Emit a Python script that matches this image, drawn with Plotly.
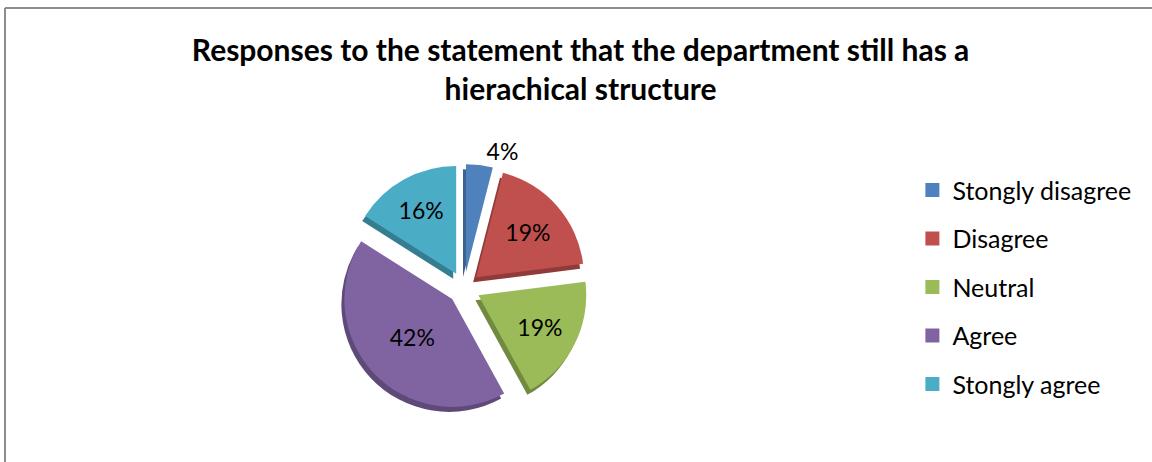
import plotly.graph_objects as go

# Survey responses
categories = ["Stongly disagree", "Disagree", "Neutral", "Agree", "Stongly agree"]
shares = [4, 19, 19, 42, 16]
colors = ["#4F81BD", "#C0504D", "#9BBB59", "#8064A2", "#4BACC6"]
edge_colors = ["#3A6390", "#8F3B39", "#718A40", "#5E4A78", "#357E92"]

title_text = "Responses to the statement that the department still has a<br>hierachical structure"

W, H = 1152, 462
FONT = "Lato, 'Open Sans', sans-serif"

# pie geometry (pixels)
cx, cy, half = 464, 288, 124
pull = [0.15] * len(shares)


def dom(dx=0, dy=0):
    x0 = (cx + dx - half) / W
    x1 = (cx + dx + half) / W
    yb = H - (cy + dy)
    return dict(x=[x0, x1], y=[(yb - half) / H, (yb + half) / H])


fig = go.Figure()

# darker copy underneath gives the slices a bevelled edge
fig.add_trace(go.Pie(
    values=shares, labels=categories, sort=False, direction="clockwise", rotation=0,
    pull=pull, marker=dict(colors=edge_colors, line=dict(width=0)),
    textinfo="none", hoverinfo="skip", showlegend=False, domain=dom(-3, 5),
))

textpos = ["outside"] + ["inside"] * (len(shares) - 1)
fig.add_trace(go.Pie(
    values=shares, labels=categories, sort=False, direction="clockwise", rotation=0,
    pull=pull, marker=dict(colors=colors, line=dict(width=0)),
    texttemplate="%{value}%", textposition=textpos,
    insidetextorientation="horizontal",
    textfont=dict(family=FONT, size=23, color="#000000"),
    showlegend=False, domain=dom(),
))

# legend entries, one group each so they can be spaced apart
for name, col in zip(categories, colors):
    fig.add_trace(go.Scatter(
        x=[None], y=[None], mode="markers", name=name, legendgroup=name,
        marker=dict(symbol="square", size=14, color=col),
    ))

fig.update_layout(
    width=W, height=H,
    margin=dict(l=0, r=0, t=0, b=0),
    paper_bgcolor="white", plot_bgcolor="white",
    title=dict(text=title_text, x=0.504, xanchor="center", y=0.868, yanchor="middle",
               font=dict(family=FONT, size=30, color="#000000", weight="bold")),
    xaxis=dict(visible=False), yaxis=dict(visible=False),
    legend=dict(x=0.792, y=0.638, xanchor="left", yanchor="top",
                font=dict(family=FONT, size=25, color="#000000"),
                tracegroupgap=13, itemwidth=30, bgcolor="rgba(0,0,0,0)"),
    shapes=[
        dict(type="line", xref="paper", yref="paper", x0=5 / W, x1=1, y0=1 - 8 / H, y1=1 - 8 / H,
             line=dict(color="#8c8c8c", width=2)),
        dict(type="line", xref="paper", yref="paper", x0=5 / W, x1=5 / W, y0=0, y1=1 - 8 / H,
             line=dict(color="#8c8c8c", width=2)),
    ],
)

fig.write_html("out.html")
